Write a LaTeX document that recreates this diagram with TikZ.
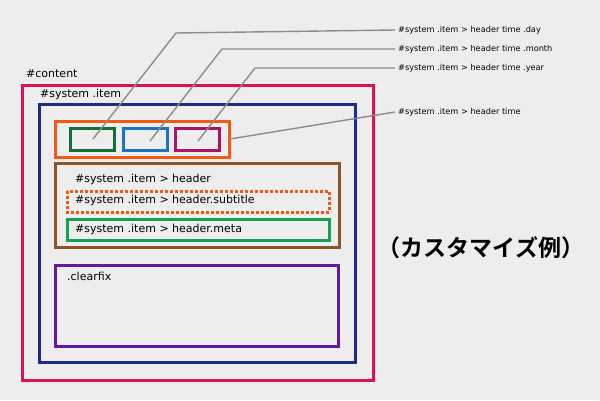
\documentclass[tikz,border=0pt]{standalone}
\usepackage{fontspec}
\setmainfont{DejaVu Sans}
\newfontfamily\cjk{Noto Sans CJK JP}[BoldFont={* Bold}]
\begin{document}
\begin{tikzpicture}[x=1pt,y=-1pt,
  box/.style={draw=#1,line width=3pt},
  lbl/.style={font=\fontsize{11}{13}\selectfont,anchor=west,inner sep=0pt},
  rlbl/.style={font=\fontsize{8.2}{10}\selectfont,anchor=west,inner sep=0pt},
  lead/.style={draw=gray!90,line width=1.4pt}]
\useasboundingbox[fill=black!7] (0,0) rectangle (600,400);
\definecolor{cpink}{HTML}{DC0F5A}
\definecolor{cnavy}{HTML}{1E2D82}
\definecolor{corange}{HTML}{F05A14}
\definecolor{cgreen}{HTML}{146E3C}
\definecolor{cblue}{HTML}{1E73BE}
\definecolor{cmag}{HTML}{AA1464}
\definecolor{cbrown}{HTML}{8C5528}
\definecolor{cgreen2}{HTML}{14A050}
\definecolor{cpurple}{HTML}{64189B}
\path[box=cpink] (22,85) rectangle (373,380);
\path[box=cnavy] (39,104) rectangle (355,362);
\path[box=corange] (55,121) rectangle (229,157);
\path[box=cgreen] (70,128) rectangle (114,150);
\path[box=cblue] (123,128) rectangle (167,150);
\path[box=cmag] (175,128) rectangle (219,150);
\path[box=cbrown] (55,163) rectangle (339,247);
\path[draw=corange,line width=3pt,dash pattern=on 2.6pt off 2.4pt] (67,191) rectangle (329,212);
\path[box=cgreen2] (67,219) rectangle (329,240);
\path[box=cpurple] (55,265) rectangle (338,346);
\node[lbl] (lc) at (26,74) {\#content};
\node[lbl] (ls) at (40,94) {\#system .item};
\node[lbl] (lh) at (75,179) {\#system .item > header};
\node[lbl] (lsub) at (75,200) {\#system .item > header.subtitle};
\node[lbl] (lm) at (75,229) {\#system .item > header.meta};
\node[lbl] (lcf) at (67,276) {.clearfix};
\node[rlbl] (t1) at (398,30) {\#system .item > header time .day};
\node[rlbl] (t2) at (398,49) {\#system .item > header time .month};
\node[rlbl] (t3) at (398,68) {\#system .item > header time .year};
\node[rlbl] (t4) at (398,112) {\#system .item > header time};
\coordinate (a1) at (93,139); \coordinate (a2) at (150,141);
\coordinate (a3) at (198,141); \coordinate (a4) at (230,139);
\draw[lead] (a1) -- (176,33) -- ([xshift=-3pt]t1.west);
\draw[lead] (a2) -- (222,49) -- ([xshift=-3pt]t2.west);
\draw[lead] (a3) -- (255,68) -- ([xshift=-3pt]t3.west);
\draw[lead] (a4) -- ([xshift=-3pt]t4.west);
\node[font=\cjk\bfseries\fontsize{23}{26}\selectfont,inner sep=0pt] (jp) at (481,248) {（カスタマイズ例）};
\end{tikzpicture}
\end{document}
